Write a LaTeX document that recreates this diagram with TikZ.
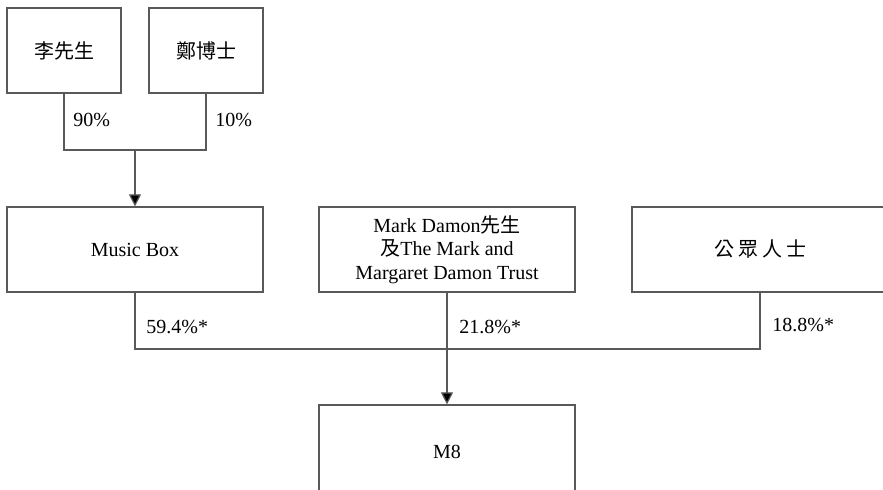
\documentclass[tikz,border=0pt]{standalone}
\usepackage{fontspec}
\setmainfont{Liberation Serif}
\newfontfamily\cjk{Noto Sans CJK TC}
\usetikzlibrary{arrows.meta,positioning,calc}

\begin{document}
\begin{tikzpicture}[x=0.5pt, y=-0.5pt, >={Triangle[length=6pt,width=6pt,fill=black]},
                own-box/.style={rectangle, draw=black!65, line width=0.6pt, text centered, font=\fontsize{10}{11.75}\selectfont, inner sep=0pt},
                top-box/.style={own-box, minimum width=57pt, minimum height=42.5pt},
                wide-box/.style={own-box, minimum width=128pt, minimum height=42.5pt, align=center},
                pct/.style={anchor=west, inner sep=0pt, font=\fontsize{10}{12}\selectfont},
                link/.style={draw=black!65, line width=0.6pt}]
                \clip (0,0) rectangle (883,490);
                % owners of Music Box
                \node [top-box] (li) at (64,50.5) {\cjk 李先生};
                \node [top-box] (zheng) at (206,50.5) {\cjk 鄭博士};
                % shareholders
                \node [wide-box] (musicbox) at (135,249.5) {Music Box};
                \node [wide-box] (damon) at (447,249.5) {Mark Damon{\cjk 先生}\\{\cjk 及}The Mark and\\Margaret Damon Trust};
                \node [wide-box] (public) at (760,249.5) {\cjk 公\hspace{2pt}眾\hspace{2pt}人\hspace{2pt}士};
                \node [wide-box, minimum height=47pt] (m8) at (447,452) {M8};
                \coordinate (top-join) at (135,150);
                \coordinate (bot-join) at (447,349);
                \draw [link] (li.south) |- (top-join) -| (zheng.south);
                \draw [link, ->] (top-join) -- (musicbox.north);
                \draw [link] (musicbox.south) |- (bot-join) -| (public.south);
                \draw [link, ->] (damon.south) -- (m8.north);
                \node [pct] at (73,120) {90\%};
                \node [pct] at (215,120) {10\%};
                \node [pct] at (146,327) {59.4\%*};
                \node [pct] at (459,327) {21.8\%*};
                \node [pct] at (772,325) {18.8\%*};
\end{tikzpicture}
\end{document}
